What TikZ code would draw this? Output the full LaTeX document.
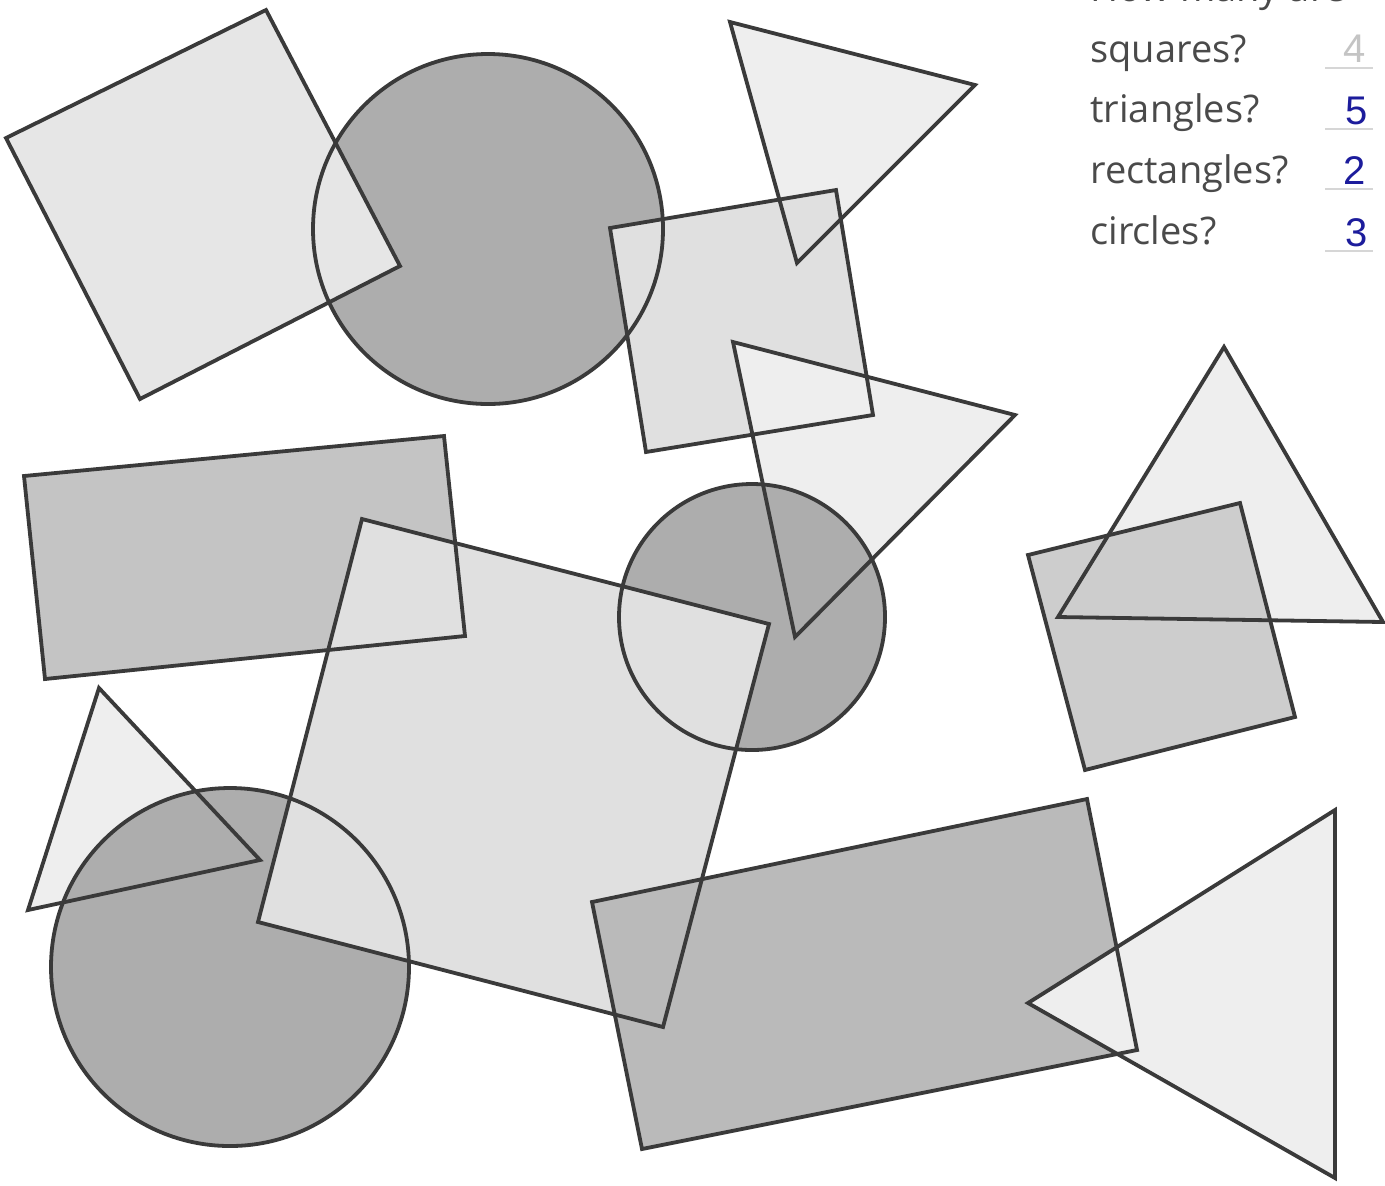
\documentclass[tikz,border=0pt]{standalone}
\usepackage{fontspec}
\setmainfont{Open Sans}
\newfontfamily\numfont{Liberation Sans}
\definecolor{edge}{HTML}{3A3A3A}
\definecolor{lightfill}{HTML}{E6E6E6}
\definecolor{trifill}{HTML}{EEEEEE}
\definecolor{sqfill}{HTML}{E0E0E0}
\definecolor{rectfill}{HTML}{C4C4C4}
\definecolor{circfill}{HTML}{ADADAD}
\definecolor{rsqfill}{HTML}{CDCDCD}
\definecolor{labelgray}{HTML}{4A4A4A}
\definecolor{ansblue}{HTML}{1C1C9C}
\definecolor{ansgray}{HTML}{C4C4C4}
\definecolor{rulegray}{HTML}{D6D6D6}
\begin{document}
\begin{tikzpicture}[x=0.5pt,y=-0.5pt,
  outline/.style={draw=edge,line width=1.9pt,line join=miter},
  lbl/.style={anchor=base west,inner sep=0pt,text=labelgray,font=\fontsize{19}{22}\selectfont},
  ans/.style={anchor=base east,inner sep=0pt,font=\numfont\fontsize{20}{24}\selectfont},
  answerrule/.style={draw=rulegray,line width=0.6pt}]
\useasboundingbox (0,0) rectangle (1385,1185);
\fill[white] (0,0) rectangle (1385,1185);

% ---- shape geometry
\def\sqA{(6,138) -- (266,10) -- (400,266) -- (140,399) -- cycle}
\def\sqB{(610,228) -- (836,190) -- (873,415) -- (646,452) -- cycle}
\def\triA{(730,22) -- (975,85) -- (797,263) -- cycle}
\def\triB{(733,342) -- (1015,415) -- (795,637) -- cycle}
\def\rectA{(24,476) -- (444,436) -- (465,636) -- (45,679) -- cycle}
\def\bigsq{(362,519) -- (769,624) -- (663,1027) -- (258,922) -- cycle}
\def\triC{(99,688) -- (260,860) -- (28,910) -- cycle}
\def\rectB{(592,902) -- (1087,799) -- (1137,1050) -- (642,1149) -- cycle}
\def\triD{(1335,810) -- (1028,1003) -- (1335,1178) -- cycle}
\def\triE{(1224,347) -- (1383,622) -- (1058,617) -- cycle}
\def\sqC{(1028,555) -- (1240,503) -- (1295,717) -- (1085,770) -- cycle}
\def\cirA{(488,229) circle[radius=87.5pt]}
\def\cirB{(752,617) circle[radius=66.5pt]}
\def\cirC{(230,967) circle[radius=89.5pt]}

% ---- fills, back to front
\fill[circfill] \cirA;
\fill[lightfill] \sqA;
\fill[trifill] \triA;
\fill[sqfill] \sqB;
\fill[trifill] \triB;
\fill[circfill] \cirB;
\fill[rectfill] \rectA;
\fill[trifill] \triC;
\fill[circfill] \cirC;
\fill[sqfill] \bigsq;
\fill[rectfill!95!black] \rectB;
\fill[trifill] \triD;
\fill[trifill] \triE;
\fill[rsqfill] \sqC;

% ---- outlines, all visible
\draw[outline] \cirA;
\draw[outline] \sqA;
\draw[outline] \triA;
\draw[outline] \sqB;
\draw[outline] \triB;
\draw[outline] \cirB;
\draw[outline] \rectA;
\draw[outline] \triC;
\draw[outline] \cirC;
\draw[outline] \bigsq;
\draw[outline] \rectB;
\draw[outline] \triD;
\draw[outline] \triE;
\draw[outline] \sqC;

% ---- questions
\begin{scope}
\clip (1000,0) rectangle (1385,40);
\node[lbl] (qhead) at (1090,1) {How many are};
\end{scope}
\node[lbl] (qsq)  at (1090,62)  {squares?};
\node[lbl] (qtri) at (1090,122) {triangles?};
\node[lbl] (qrec) at (1090,183) {rectangles?};
\node[lbl] (qcir) at (1090,244) {circles?};

\node[ans,text=ansgray] (asq)  at (1366,62)  {4};
\node[ans,text=ansblue] (atri) at (1368,124) {5};
\node[ans,text=ansblue] (arec) at (1366,184) {2};
\node[ans,text=ansblue] (acir) at (1368,246) {3};

\coordinate (r1a) at (1325,68);  \coordinate (r1b) at (1373,68);
\coordinate (r2a) at (1325,129); \coordinate (r2b) at (1373,129);
\coordinate (r3a) at (1325,189); \coordinate (r3b) at (1373,189);
\coordinate (r4a) at (1325,251); \coordinate (r4b) at (1373,251);
\draw[answerrule] (r1a) -- (r1b);
\draw[answerrule] (r2a) -- (r2b);
\draw[answerrule] (r3a) -- (r3b);
\draw[answerrule] (r4a) -- (r4b);
\end{tikzpicture}
\end{document}
